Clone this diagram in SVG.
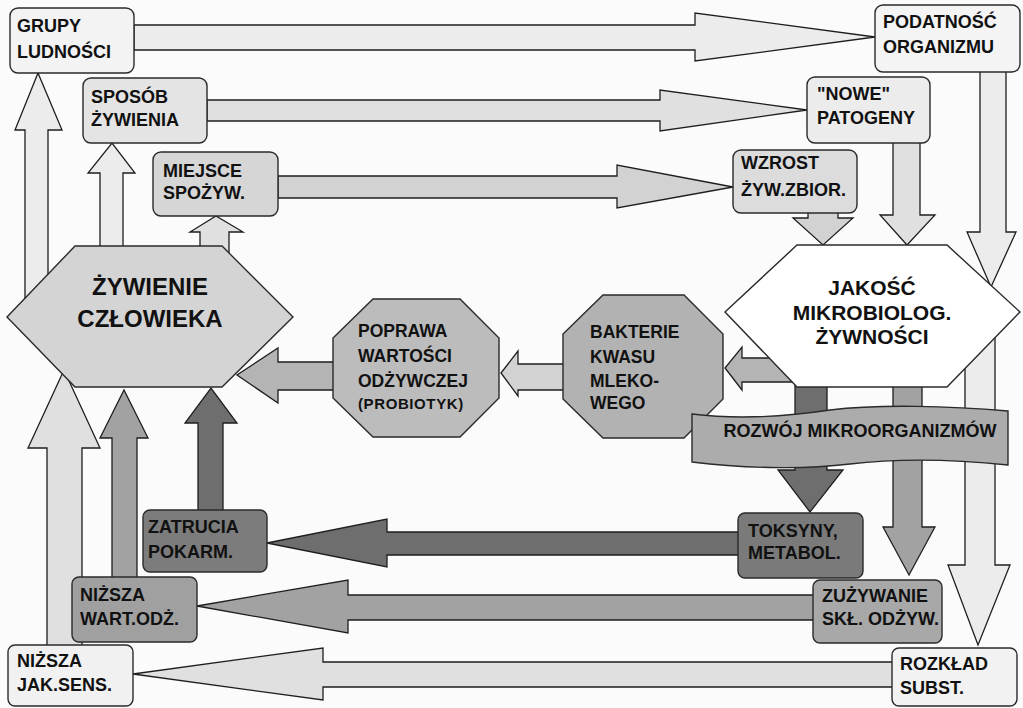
<svg xmlns="http://www.w3.org/2000/svg" width="1023" height="708" viewBox="0 0 1023 708">
<style>
.a{stroke:#1e1e1e;stroke-width:1.3;stroke-linejoin:miter}
.b{stroke:#2a2a2a;stroke-width:1.4}
.t{font-family:"Liberation Sans",Arial,sans-serif;font-weight:bold;font-size:18px;fill:#111}
.big{font-size:24px;text-anchor:middle}
.mid{font-size:21px;text-anchor:middle}
.oct{font-size:17.5px}
.sm{font-size:15px;letter-spacing:0.6px}
.l1{fill:#ececec}.l2{fill:#e0e0e0}.l3{fill:#d2d2d2}.m1{fill:#b4b4b4}.m2{fill:#a2a2a2}.d1{fill:#6e6e6e}
</style>
<rect width="1023" height="708" fill="#fbfbfb"/>
<g id="connectors">
<polygon class="a l1" points="134,25 695,25 695,13 875,37 695,61 695,50 134,50"/>
<polygon class="a l2" points="207,100 660,100 660,90 807,110 660,131 660,121 207,121"/>
<polygon class="a l3" points="278,176 617,176 617,165 733,187 617,208 617,198 278,198"/>
<polygon class="a l1" points="25,300 25,130 15,130 38,73 62,130 48,130 48,300"/>
<polygon class="a l1" points="100,260 100,173 88,173 112,143 135,173 123,173 123,260"/>
<polygon class="a l2" points="200,260 200,232 190,232 216,216 243,232 229,232 229,260"/>
<polygon class="a d1" points="198,512 198,423 185,423 211,388 237,423 223,423 223,512"/>
<polygon class="a m2" points="112,579 112,438 100,438 124,390 148,438 137,438 137,579"/>
<polygon class="a l2" points="47,647 47,448 28,448 64,370 100,448 82,448 82,647"/>
<polygon class="a m1" points="340,362 278,362 278,348 237,375 278,403 278,390 340,390"/>
<polygon class="a l3" points="570,364 518,364 518,351 501,373 518,396 518,390 570,390"/>
<polygon class="a d1" points="795,370 795,470 778,470 810,512 843,470 827,470 827,370"/>
<polygon class="a m1" points="800,358 742,358 742,347 725,368 742,390 742,382 795,382 800,382"/>
<polygon class="a m2" points="893,370 893,527 883,527 909,575 935,527 922,527 922,370"/>
<polygon class="a l1" points="965,330 965,565 948,565 978,645 1010,565 995,565 995,330"/>
<polygon class="a l3" points="808,205 808,218 793,218 823,245 853,218 838,218 838,205"/>
<polygon class="a l2" points="893,140 893,215 880,215 907,245 935,215 920,215 920,140"/>
<polygon class="a l1" points="980,70 980,232 967,232 991,287 1016,232 1006,232 1006,70"/>
<polygon class="a d1" points="740,532 387,532 387,519 267,543 387,567 387,555 740,555"/>
<polygon class="a m2" points="815,595 348,595 348,580 197,606 348,633 348,620 815,620"/>
<polygon class="a l2" points="894,662 323,662 323,648 133,674 323,700 323,687 894,687"/>
</g>
<g id="grupy">
<rect class="b" x="10" y="8" width="124" height="65" rx="8" fill="#f3f3f3"/>
<text class="t" x="17" y="32">GRUPY</text><text class="t" x="17" y="58">LUDNOŚCI</text>
</g>
<g id="sposob">
<rect class="b" x="83" y="78" width="124" height="65" rx="8" fill="#e4e4e4"/>
<text class="t" x="91" y="103">SPOSÓB</text><text class="t" x="91" y="126">ŻYWIENIA</text>
</g>
<g id="miejsce">
<rect class="b" x="153" y="152" width="125" height="64" rx="8" fill="#d6d6d6"/>
<text class="t" x="163" y="177">MIEJSCE</text><text class="t" x="163" y="199">SPOŻYW.</text>
</g>
<g id="podatnosc">
<rect class="b" x="875" y="5" width="145" height="67" rx="8" fill="#f4f4f4"/>
<text class="t" x="883" y="28">PODATNOŚĆ</text><text class="t" x="883" y="53">ORGANIZMU</text>
</g>
<g id="nowe">
<rect class="b" x="807" y="77" width="123" height="66" rx="8" fill="#ececec"/>
<text class="t" x="817" y="100">"NOWE"</text><text class="t" x="817" y="124">PATOGENY</text>
</g>
<g id="wzrost">
<rect class="b" x="733" y="150" width="124" height="63" rx="8" fill="#dcdcdc"/>
<text class="t" x="741" y="169">WZROST</text><text class="t" x="741" y="196">ŻYW.ZBIOR.</text>
</g>
<g id="zywienie">
<polygon class="b" points="7,317 75,246 222,246 293,317 222,387 75,387" fill="#d4d4d4"/>
<text class="t big" x="150" y="295">ŻYWIENIE</text><text class="t big" x="150" y="327">CZŁOWIEKA</text>
</g>
<g id="poprawa">
<polygon class="b" points="373,299 460,299 499,338 499,398 460,437 373,437 333,398 333,338" fill="#bcbcbc"/>
<text class="t oct" x="358" y="337">POPRAWA</text><text class="t oct" x="358" y="362">WARTOŚCI</text><text class="t oct" x="358" y="387">ODŻYWCZEJ</text><text class="t sm" x="358" y="409">(PROBIOTYK)</text>
</g>
<g id="bakterie">
<polygon class="b" points="603,295 684,295 723,334 723,399 684,438 603,438 563,399 563,334" fill="#b2b2b2"/>
<text class="t oct" x="590" y="338">BAKTERIE</text><text class="t oct" x="590" y="363">KWASU</text><text class="t oct" x="590" y="387">MLEKO-</text><text class="t oct" x="590" y="409">WEGO</text>
</g>
<g id="jakosc">
<polygon class="b" points="725,312 797,245 947,245 1020,312 947,387 797,387" fill="#ffffff"/>
<text class="t mid" x="872" y="295">JAKOŚĆ</text><text class="t mid" x="872" y="320">MIKROBIOLOG.</text><text class="t mid" x="872" y="344">ŻYWNOŚCI</text>
</g>
<g id="rozwoj">
<path class="b" d="M692,414 C740,420 790,416 830,410 C880,404 950,406 1008,411 L1008,465 C960,460 900,458 850,464 C800,470 740,468 692,462 Z" fill="#acacac"/>
<text class="t" x="860" y="437" text-anchor="middle">ROZWÓJ MIKROORGANIZMÓW</text>
</g>
<g id="zatrucia">
<rect class="b" x="143" y="510" width="124" height="62" rx="7" fill="#7c7c7c"/>
<text class="t" x="148" y="533">ZATRUCIA</text><text class="t" x="148" y="558">POKARM.</text>
</g>
<g id="nizsza-wart">
<rect class="b" x="72" y="577" width="125" height="65" rx="7" fill="#a0a0a0"/>
<text class="t" x="80" y="601">NIŻSZA</text><text class="t" x="80" y="625">WART.ODŻ.</text>
</g>
<g id="nizsza-jak">
<rect class="b" x="8" y="645" width="125" height="61" rx="7" fill="#f1f1f1"/>
<text class="t" x="17" y="667">NIŻSZA</text><text class="t" x="17" y="691">JAK.SENS.</text>
</g>
<g id="toksyny">
<rect class="b" x="738" y="513" width="125" height="65" rx="7" fill="#7a7a7a"/>
<text class="t" x="748" y="537">TOKSYNY,</text><text class="t" x="748" y="559">METABOL.</text>
</g>
<g id="zuzywanie">
<rect class="b" x="813" y="580" width="129" height="63" rx="7" fill="#a8a8a8"/>
<text class="t" x="822" y="602">ZUŻYWANIE</text><text class="t" x="822" y="625">SKŁ. ODŻYW.</text>
</g>
<g id="rozklad">
<rect class="b" x="892" y="648" width="125" height="58" rx="7" fill="#f2f2f2"/>
<text class="t" x="900" y="670">ROZKŁAD</text><text class="t" x="900" y="694">SUBST.</text>
</g>
</svg>
